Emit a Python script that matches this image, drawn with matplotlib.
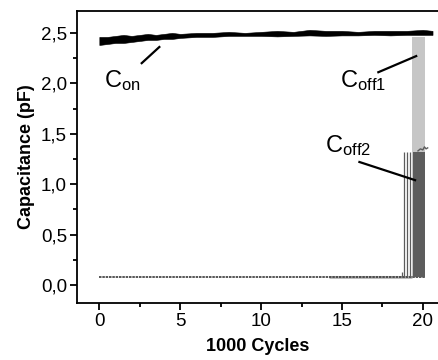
import matplotlib
matplotlib.use("Agg")
import matplotlib.pyplot as plt
from matplotlib.ticker import MultipleLocator, FuncFormatter

plt.rcParams['font.family'] = ['Liberation Sans', 'DejaVu Sans']
plt.rcParams['mathtext.fontset'] = 'custom'
plt.rcParams['mathtext.rm'] = 'Liberation Sans'
plt.rcParams['mathtext.it'] = 'Liberation Sans'

# ---- data ----
# C_on trace envelope (black)
con_x = [0.0, 0.5, 1.0, 1.5, 2.0, 2.5, 3.0, 3.5, 4.0, 4.5, 5.0, 6.0, 7.0, 8.0, 9.0,
         10.0, 11.0, 12.0, 13.0, 14.0, 15.0, 16.0, 17.0, 18.0, 19.0, 20.0, 20.6]
con_low = [2.38, 2.39, 2.40, 2.40, 2.41, 2.42, 2.43, 2.43, 2.44, 2.44, 2.45, 2.46, 2.46, 2.47, 2.47,
           2.47, 2.465, 2.47, 2.475, 2.47, 2.475, 2.475, 2.48, 2.475, 2.48, 2.48, 2.48]
con_high = [2.46, 2.46, 2.47, 2.48, 2.47, 2.48, 2.49, 2.48, 2.49, 2.50, 2.49, 2.50, 2.50, 2.51, 2.50,
            2.51, 2.52, 2.51, 2.53, 2.52, 2.52, 2.51, 2.52, 2.52, 2.52, 2.53, 2.52]

# C_off1 trace (light gray): baseline then dense switching block
off1_base_x = [14.2, 19.35]
off1_base_y = [0.08, 0.08]
off1_block_x = [19.32, 20.14]
off1_block_low = 0.08
off1_block_high = 2.46

# C_off2 trace (dark gray): baseline, isolated spikes, dense switching block
off2_base_x = [0.0, 20.15]
off2_base_y = [0.08, 0.08]
off2_spike_x = [18.70, 18.86, 19.05, 19.20]
off2_spike_top = [0.13, 1.32, 1.32, 1.32]
off2_block_x = [19.40, 20.15]
off2_block_low = 0.08
off2_block_high = 1.32
off2_top_x = [19.7, 19.85, 20.0, 20.1, 20.2, 20.3]
off2_top_y = [1.33, 1.35, 1.34, 1.37, 1.35, 1.36]

labels = {
    'on':   (r'C$_{\mathrm{on}}$',   0.30, 2.03, (2.62, 2.20), (3.71, 2.36)),
    'off1': (r'C$_{\mathrm{off1}}$', 14.9, 2.03, (17.25, 2.11), (19.59, 2.27)),
    'off2': (r'C$_{\mathrm{off2}}$', 13.95, 1.38, (16.08, 1.22), (19.52, 1.04)),
}

xticks = [0, 5, 10, 15, 20]
yticks = [0.0, 0.5, 1.0, 1.5, 2.0, 2.5]

# ---- figure ----
fig = plt.figure(figsize=(4.39, 3.60), dpi=100)
ax = fig.add_axes([0.1747, 0.1583, 0.8253, 0.812])

light = '#c6c6c6'
dark = '#5c5c5c'

# C_off1
ax.plot(off1_base_x, off1_base_y, color='#bdbdbd', lw=2.2, solid_capstyle='butt', zorder=2)
ax.fill_between(off1_block_x, off1_block_low, off1_block_high, color=light, lw=0, zorder=2)

# C_off2
ax.plot(off2_base_x, off2_base_y, color='#3a3a3a', lw=1.2, ls=(0, (1.5, 0.5)), zorder=3)
ax.vlines(off2_spike_x, 0.08, off2_spike_top, color=dark, lw=0.9, zorder=3)
ax.fill_between(off2_block_x, off2_block_low, off2_block_high, color=dark, lw=0, zorder=3)
ax.plot(off2_top_x, off2_top_y, color=dark, lw=1.0, zorder=3)

# C_on
ax.fill_between(con_x, con_low, con_high, color='black', lw=0.4, zorder=4)

# annotations
for key, (txt, tx, ty, p1, p2) in labels.items():
    ax.text(tx, ty, txt, fontsize=17, va='center', ha='left', zorder=5)
    ax.plot([p1[0], p2[0]], [p1[1], p2[1]], color='black', lw=1.6, zorder=5)

ax.set_xlim(-1.4, 21.0)
ax.set_ylim(-0.178, 2.72)

ax.spines['right'].set_visible(False)
for s in ['left', 'bottom', 'top']:
    ax.spines[s].set_linewidth(1.3)

ax.set_xticks(xticks)
ax.set_yticks(yticks)
ax.xaxis.set_minor_locator(MultipleLocator(2.5))
ax.yaxis.set_minor_locator(MultipleLocator(0.25))
ax.yaxis.set_major_formatter(FuncFormatter(lambda v, p: f"{v:.1f}".replace('.', ',')))
ax.tick_params(which='major', direction='out', length=5, width=1.3, labelsize=13.5, pad=2)
ax.tick_params(which='minor', direction='out', length=3, width=1.3)
ax.tick_params(top=False, which='both')

ax.set_xlabel('1000 Cycles', fontsize=13, fontweight='bold', labelpad=6)
ax.set_ylabel('Capacitance (pF)', fontsize=13, fontweight='bold', labelpad=4)

fig.savefig('out.png', dpi=100)
